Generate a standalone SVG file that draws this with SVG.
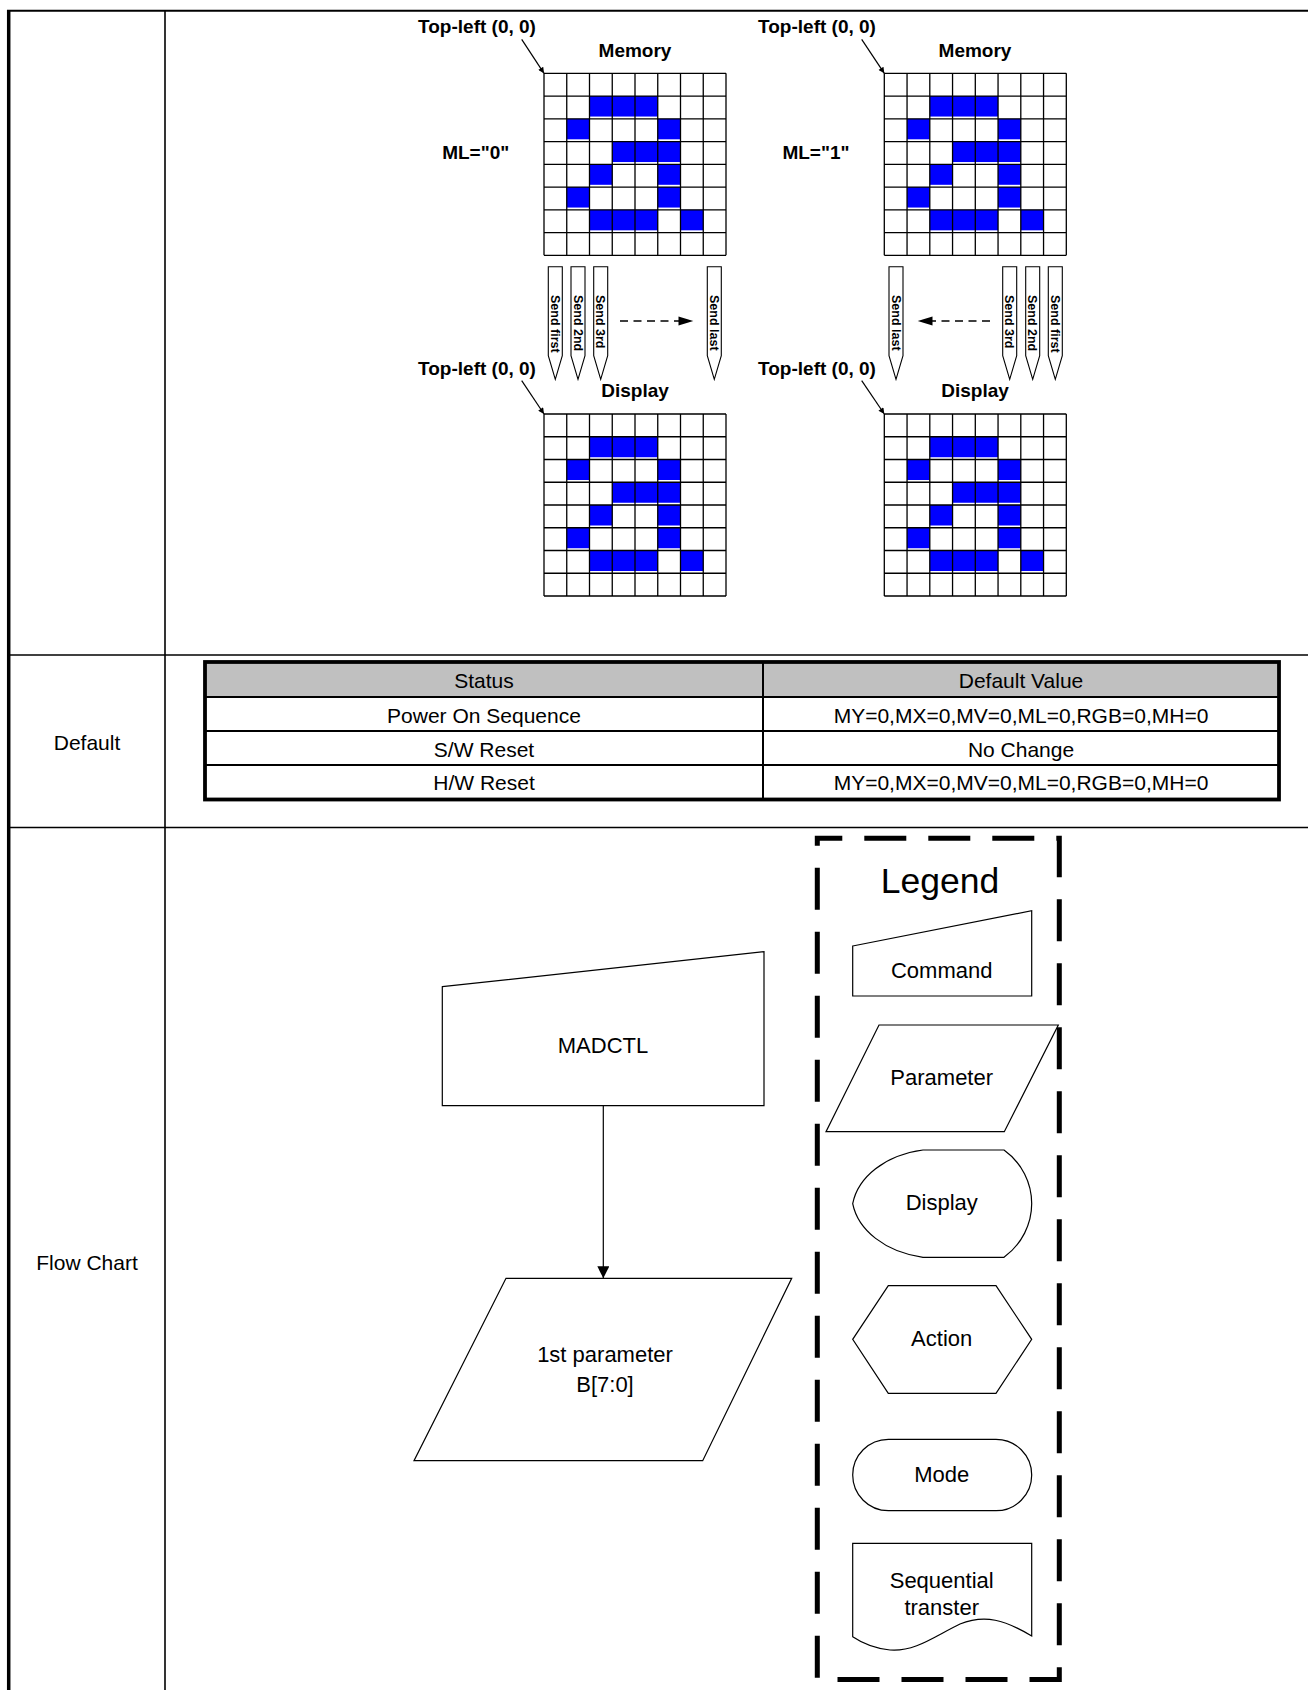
<svg xmlns="http://www.w3.org/2000/svg" xmlns:xlink="http://www.w3.org/1999/xlink" width="1308" height="1690" viewBox="0 0 1308 1690">
<style>
  .frame { stroke: #000; fill: none; }
  .lbl { font-family: "Liberation Sans", Arial, sans-serif; fill: #000; }
  .bold { font-weight: bold; font-size: 19px; }
  .send { font-family: "Liberation Sans", Arial, sans-serif; font-weight: bold; font-size: 12.5px; }
  .cell { font-family: "Liberation Sans", Arial, sans-serif; font-size: 21px; text-anchor: middle; }
  .fc { font-family: "Liberation Sans", Arial, sans-serif; font-size: 22px; text-anchor: middle; }
  .shape { fill: #fff; stroke: #000; stroke-width: 1.2; }
  .sendbox { fill: #fff; stroke: #000; stroke-width: 1.1; }
  .gl { stroke: #000; stroke-width: 1.3; fill: none; }
  .px { fill: #0000FF; }
</style>
<defs>
  <g id="grid">
    <rect class="px" x="45.5" y="22.75" width="68.25" height="20.5"/>
    <rect class="px" x="22.75" y="45.5" width="22.75" height="20.5"/>
    <rect class="px" x="113.75" y="45.5" width="22.75" height="20.5"/>
    <rect class="px" x="68.25" y="68.25" width="68.25" height="20.5"/>
    <rect class="px" x="45.5" y="91" width="22.75" height="20.5"/>
    <rect class="px" x="113.75" y="91" width="22.75" height="20.5"/>
    <rect class="px" x="22.75" y="113.75" width="22.75" height="20.5"/>
    <rect class="px" x="113.75" y="113.75" width="22.75" height="20.5"/>
    <rect class="px" x="45.5" y="136.5" width="68.25" height="20.5"/>
    <rect class="px" x="136.5" y="136.5" width="22.75" height="20.5"/>
    <path class="gl" d="M0,0V182M22.75,0V182M45.5,0V182M68.25,0V182M91,0V182M113.75,0V182M136.5,0V182M159.25,0V182M182,0V182M0,0H182M0,22.75H182M0,45.5H182M0,68.25H182M0,91H182M0,113.75H182M0,136.5H182M0,159.25H182M0,182H182"/>
  </g>
  <path id="sendshape" class="sendbox" d="M-7,0H7V89L0,112.6L-7,89Z"/>
  <marker id="ah" viewBox="0 0 10 10" refX="10" refY="5" markerUnits="userSpaceOnUse" markerWidth="9" markerHeight="6" orient="auto">
    <path d="M0,0L10,5L0,10Z" fill="#000"/>
  </marker>
  <marker id="ahbig" viewBox="0 0 10 10" refX="10" refY="5" markerUnits="userSpaceOnUse" markerWidth="21" markerHeight="12" orient="auto">
    <path d="M0,0L10,5L0,10Z" fill="#000"/>
  </marker>
</defs>

<rect width="1308" height="1690" fill="#fff"/>

<!-- table frame -->
<g id="frame">
  <line class="frame" x1="7" y1="10.8" x2="1308" y2="10.8" stroke-width="2"/>
  <line class="frame" x1="8.7" y1="10" x2="8.7" y2="1690" stroke-width="3.5"/>
  <line class="frame" x1="165" y1="10" x2="165" y2="1690" stroke-width="1.6"/>
  <line class="frame" x1="7" y1="655" x2="1308" y2="655" stroke-width="1.6"/>
  <line class="frame" x1="7" y1="827.5" x2="1308" y2="827.5" stroke-width="1.6"/>
  <text class="cell" x="87" y="750">Default</text>
  <text class="cell" x="87" y="1270">Flow Chart</text>
</g>

<!-- ML=0 panel -->
<g id="ml0">
  <text class="lbl bold" x="477" y="33" text-anchor="middle">Top-left (0, 0)</text>
  <text class="lbl bold" x="635" y="57" text-anchor="middle">Memory</text>
  <text class="lbl bold" x="475.7" y="159.3" text-anchor="middle">ML="0"</text>
  <use xlink:href="#grid" href="#grid" transform="translate(544,73.3)"/>
  <text class="lbl bold" x="477" y="375" text-anchor="middle">Top-left (0, 0)</text>
  <text class="lbl bold" x="635" y="396.7" text-anchor="middle">Display</text>
  <use xlink:href="#grid" href="#grid" transform="translate(544,414)"/>
</g>

<g id="ml0-send">
  <g transform="translate(555.3,266.7)"><use xlink:href="#sendshape" href="#sendshape"/></g>
  <g transform="translate(578,266.7)"><use xlink:href="#sendshape" href="#sendshape"/></g>
  <g transform="translate(600.7,266.7)"><use xlink:href="#sendshape" href="#sendshape"/></g>
  <g transform="translate(714.3,266.7)"><use xlink:href="#sendshape" href="#sendshape"/></g>
  <text class="send" transform="translate(555.3,295) rotate(90)" x="0" y="4.5">Send first</text>
  <text class="send" transform="translate(578,295) rotate(90)" x="0" y="4.5">Send 2nd</text>
  <text class="send" transform="translate(600.7,295) rotate(90)" x="0" y="4.5">Send 3rd</text>
  <text class="send" transform="translate(714.3,295) rotate(90)" x="0" y="4.5">Send last</text>
</g>

<!-- ML=1 panel -->
<g id="ml1">
  <text class="lbl bold" x="817" y="33" text-anchor="middle">Top-left (0, 0)</text>
  <text class="lbl bold" x="975" y="57" text-anchor="middle">Memory</text>
  <text class="lbl bold" x="816" y="159.3" text-anchor="middle">ML="1"</text>
  <use xlink:href="#grid" href="#grid" transform="translate(884.3,73.3)"/>
  <text class="lbl bold" x="817" y="375" text-anchor="middle">Top-left (0, 0)</text>
  <text class="lbl bold" x="975" y="396.7" text-anchor="middle">Display</text>
  <use xlink:href="#grid" href="#grid" transform="translate(884.3,414)"/>
</g>

<g id="ml1-send">
  <g transform="translate(896,266.7)"><use xlink:href="#sendshape" href="#sendshape"/></g>
  <g transform="translate(1009.7,266.7)"><use xlink:href="#sendshape" href="#sendshape"/></g>
  <g transform="translate(1032.7,266.7)"><use xlink:href="#sendshape" href="#sendshape"/></g>
  <g transform="translate(1055.3,266.7)"><use xlink:href="#sendshape" href="#sendshape"/></g>
  <text class="send" transform="translate(896,295) rotate(90)" x="0" y="4.5">Send last</text>
  <text class="send" transform="translate(1009.7,295) rotate(90)" x="0" y="4.5">Send 3rd</text>
  <text class="send" transform="translate(1032.7,295) rotate(90)" x="0" y="4.5">Send 2nd</text>
  <text class="send" transform="translate(1055.3,295) rotate(90)" x="0" y="4.5">Send first</text>
</g>

<!-- default table -->
<g id="default-table">
  <rect x="205" y="662" width="1074" height="137.5" fill="#fff"/>
  <rect x="205" y="663.5" width="1074" height="33.5" fill="#C0C0C0"/>
  <line x1="205" y1="697" x2="1279" y2="697" stroke="#000" stroke-width="2"/>
  <line x1="205" y1="731" x2="1279" y2="731" stroke="#000" stroke-width="2"/>
  <line x1="205" y1="765" x2="1279" y2="765" stroke="#000" stroke-width="2"/>
  <line x1="763" y1="662" x2="763" y2="799.5" stroke="#000" stroke-width="2"/>
  <rect x="205" y="662" width="1074" height="137.5" fill="none" stroke="#000" stroke-width="3.8"/>
  <text class="cell" x="484" y="688">Status</text>
  <text class="cell" x="1021" y="688">Default Value</text>
  <text class="cell" x="484" y="722.5">Power On Sequence</text>
  <text class="cell" x="1021" y="722.5">MY=0,MX=0,MV=0,ML=0,RGB=0,MH=0</text>
  <text class="cell" x="484" y="756.5">S/W Reset</text>
  <text class="cell" x="1021" y="756.5">No Change</text>
  <text class="cell" x="484" y="790">H/W Reset</text>
  <text class="cell" x="1021" y="790">MY=0,MX=0,MV=0,ML=0,RGB=0,MH=0</text>
</g>

<!-- flow chart nodes -->
<g id="madctl">
  <path class="shape" d="M442.3,986.7L764,951.7V1105.7H442.3Z"/>
  <text class="fc" x="603" y="1052.7">MADCTL</text>
</g>
<g id="param1">
  <path class="shape" d="M506,1278.3H791.7L702.7,1460.7H414Z"/>
  <text class="fc" x="605" y="1361.7">1st parameter</text>
  <text class="fc" x="605" y="1391.7">B[7:0]</text>
</g>

<!-- legend -->
<g id="legend">
  <path d="M817.3,838.3H1059.3V1679.5H817.3Z" fill="none" stroke="#000" stroke-width="5" stroke-dasharray="42 22" stroke-dashoffset="17"/>
  <text class="lbl" x="940" y="893.3" font-size="35.5" text-anchor="middle">Legend</text>
</g>
<g id="legend-command">
  <path class="shape" d="M852.7,946L1031.7,910.7V996H852.7Z"/>
  <text class="fc" x="941.7" y="978.3">Command</text>
</g>
<g id="legend-parameter">
  <path class="shape" d="M879,1025H1058.3L1004.3,1131.7H826Z"/>
  <text class="fc" x="941.7" y="1085">Parameter</text>
</g>
<g id="legend-display">
  <path class="shape" d="M923,1150H1004C1022,1163 1031.7,1183 1031.7,1203.6C1031.7,1224 1022,1244 1004,1257.3H923C885,1252 858,1230 852.7,1203.6C858,1177 885,1155 923,1150Z"/>
  <text class="fc" x="941.7" y="1210">Display</text>
</g>
<g id="legend-action">
  <path class="shape" d="M888.3,1285.7H996L1031.7,1339.3L996,1393.3H888.3L852.7,1339.3Z"/>
  <text class="fc" x="941.7" y="1346">Action</text>
</g>
<g id="legend-mode">
  <rect class="shape" x="852.7" y="1439.3" width="179" height="71.4" rx="35.7" ry="35.7"/>
  <text class="fc" x="941.7" y="1481.7">Mode</text>
</g>
<g id="legend-sequential">
  <path class="shape" d="M852.7,1543.3H1031.7V1636C1005,1620 985,1614 960,1624C935,1636 915,1652 890,1650C872,1648 862,1643 852.7,1636.7Z"/>
  <text class="fc" x="941.7" y="1588.3">Sequential</text>
  <text class="fc" x="941.7" y="1615">transter</text>
</g>

<!-- connectors -->
<g id="connectors" stroke="#000" fill="none">
  <line x1="521.7" y1="39.3" x2="544" y2="73.3" stroke-width="1.2" marker-end="url(#ah)"/>
  <line x1="861.7" y1="39.3" x2="884.3" y2="73.3" stroke-width="1.2" marker-end="url(#ah)"/>
  <line x1="521.7" y1="380.7" x2="544" y2="414" stroke-width="1.2" marker-end="url(#ah)"/>
  <line x1="861.7" y1="380.7" x2="884.3" y2="414" stroke-width="1.2" marker-end="url(#ah)"/>
  <line x1="620" y1="321" x2="680" y2="321" stroke-width="1.6" stroke-dasharray="8 5.5"/>
  <path d="M693.3,321L678.5,316.5V325.5Z" fill="#000" stroke="none"/>
  <line x1="990" y1="321" x2="931" y2="321" stroke-width="1.6" stroke-dasharray="8 5.5"/>
  <path d="M917.7,321L932.5,316.5V325.5Z" fill="#000" stroke="none"/>
  <line x1="603.3" y1="1105.7" x2="603.3" y2="1278.3" stroke-width="1.2" marker-end="url(#ahbig)"/>
</g>
</svg>
